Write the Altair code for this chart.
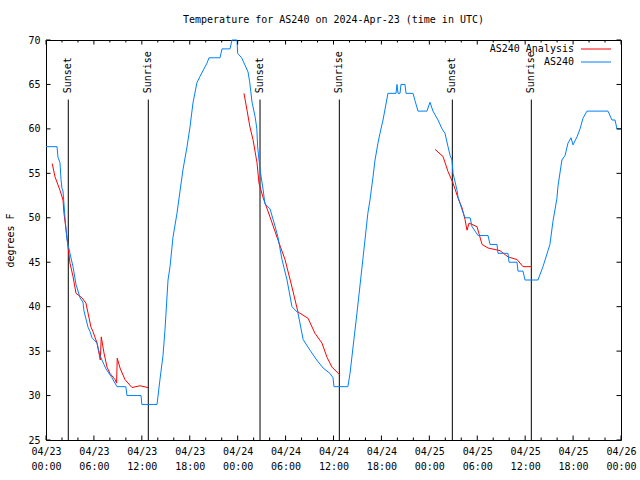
import altair as alt
import pandas as pd

# ---- data (hours since 2024-04-23 00:00 UTC, degrees F) ----
blue_hours = [0.0, 1.38, 1.5, 1.75, 1.88, 2.0, 2.13, 2.38, 2.63, 3.0,
              3.38, 3.76, 4.26, 4.63, 4.76, 5.26, 5.51, 5.76, 6.39, 6.76,
              7.26, 7.51, 8.26, 8.89, 10.0, 10.14, 11.9, 12.0, 13.9, 14.27,
              14.65, 14.9, 15.28, 15.53, 15.9, 16.4, 16.78, 17.15, 17.66, 18.03,
              18.4, 18.9, 19.28, 20.16, 20.41, 21.79, 22.04, 23.04, 23.29, 23.92,
              24.0, 24.5, 24.9, 25.3, 25.5, 25.8, 26.2, 26.4, 26.5, 26.8,
              27.2, 27.4, 28.05, 28.7, 29.05, 29.55, 30.18, 30.8, 31.55, 32.2,
              33.06, 33.9, 34.7, 35.55, 35.94, 36.06, 37.8, 38.07, 38.94, 39.7,
              40.3, 40.57, 40.95, 41.2, 41.57, 41.82, 42.2, 42.82, 43.83, 43.95,
              44.08, 44.33, 44.45, 44.95, 45.08, 45.96, 46.2, 46.58, 47.7, 48.08,
              48.46, 49.09, 49.59, 49.96, 50.34, 50.6, 50.84, 50.97, 51.47, 51.6,
              51.85, 52.1, 52.47, 53.1, 53.35, 54.1, 55.35, 55.6, 56.47, 56.6,
              57.85, 57.98, 58.98, 59.1, 59.73, 59.98, 61.6, 62.23, 62.86, 63.1,
              63.48, 63.98, 64.1, 64.6, 64.99, 65.36, 65.74, 65.99, 66.49, 66.87,
              67.24, 67.74, 70.37, 70.87, 71.25, 71.5, 72.0]
blue_temps = [58, 58, 56.8, 56.2, 54.3, 53.3, 53, 50, 47.5, 46,
              44.5, 42.5, 41, 40.5, 39.5, 37.7, 37.2, 36.5, 35.9, 34.5,
              33.5, 33, 32, 31, 31, 30, 30, 29, 29, 31.8,
              34.5, 37.4, 43, 44.5, 47.8, 50.5, 53, 55.4, 58, 60.2,
              62.9, 65.2, 65.9, 67.4, 68, 68, 69, 69, 70, 70,
              68.5, 68, 67.2, 66.4, 65.3, 63, 61.3, 60, 58, 55.4,
              53.1, 51.6, 51, 49, 47.8, 45.3, 43, 40, 39.3, 36.3,
              35.1, 34, 33.1, 32.5, 32, 31, 31, 32.5, 39.3, 45.5,
              50.5, 52, 54.6, 56.5, 58.4, 59.5, 61, 64, 64, 65,
              64, 64, 65, 65, 64, 64, 63.2, 62, 62, 63,
              62, 61, 60, 59.5, 58, 57, 56.5, 55, 53.1, 52.3,
              51.6, 50.9, 50, 50, 49, 48, 48, 47, 47, 46,
              46, 45, 45, 44, 44, 43, 43, 44.5, 46.3, 47,
              49.6, 52.2, 53.5, 56.5, 57, 58.4, 59, 58.2, 59.1, 60,
              61.2, 62, 62, 61, 61, 60, 60]

red1_hours = [0.78, 1.13, 1.5, 1.75, 2.13, 2.25, 2.63, 3.0, 3.38, 3.76,
              4.5, 5.0, 5.26, 5.63, 5.88, 6.39, 6.8, 6.92, 7.26, 7.64,
              8.01, 8.64, 8.84, 8.92, 9.27, 9.89, 10.77, 11.77, 12.77]
red1_temps = [56.1, 54.6, 53.7, 53.1, 52, 50.5, 47.8, 44.9, 43.4, 41.5,
              41, 40.4, 39.3, 37.7, 37.2, 35.9, 34, 36.6, 34.8, 33.2,
              32.5, 31.8, 31.4, 34.2, 33.1, 31.8, 30.9, 31.1, 30.9]
red2_hours = [24.79, 25.17, 25.54, 25.92, 26.42, 26.67, 27.17, 28.05, 28.93,
              29.93, 30.8, 31.55, 32.81, 33.68, 34.56, 35.19, 35.81, 36.81]
red2_temps = [64, 62.1, 60.2, 58.8, 56.2, 53.9, 52.3, 50.1, 47.8,
              45.3, 42.2, 39.4, 38.7, 37, 35.9, 34.3, 33.2, 32.3]
red3_hours = [48.71, 49.71, 50.34, 50.97, 51.6, 52.1, 52.47, 52.72, 52.97,
              53.97, 54.6, 55.35, 56.85, 57.85, 58.98, 59.73, 60.86]
red3_temps = [57.7, 56.9, 55.2, 53.9, 52.2, 51.1, 49.8, 48.6, 49.4,
              49, 47, 46.6, 46.3, 45.6, 45.3, 44.5, 44.5]

event_hours = [2.79, 12.81, 26.8, 36.73, 50.88, 60.77]
event_labels = ["Sunset", "Sunrise", "Sunset", "Sunrise", "Sunset", "Sunrise"]

y_ticks = [25, 30, 35, 40, 45, 50, 55, 60, 65, 70]
x_major = [0, 6, 12, 18, 24, 30, 36, 42, 48, 54, 60, 66, 72]
x_minor = [h for h in range(0, 73, 2) if h % 6 != 0]

series_names = ["AS240 Analysis", "AS240"]
series_colors = ["#ff0000", "#0080ff"]

# ---- layout constants ----
W, H = 575, 400
X0, X1, Y0, Y1 = 0, 72, 25, 70
FONT = "DejaVu Sans Mono"
FS = 10
px_y = (Y1 - Y0) / H      # degrees per pixel
px_x = (X1 - X0) / W      # hours per pixel

xscale = alt.Scale(domain=[X0, X1], nice=False, zero=False)
yscale = alt.Scale(domain=[Y0, Y1], nice=False, zero=False)

xaxis = alt.Axis(values=x_major, ticks=False, domain=False, grid=False, title=None,
                 labelFont=FONT, labelFontSize=FS, labelColor="black",
                 labelBaseline="top", labelPadding=6, labelLineHeight=15,
                 labelFlush=False, labelOverlap=False,
                 labelExpr="['04/' + (23 + floor(datum.value / 24)), "
                           "((datum.value % 24) < 10 ? '0' : '') + (datum.value % 24) + ':00']")
yaxis = alt.Axis(values=y_ticks, ticks=False, domain=False, grid=False,
                 title="degrees F", titleFont=FONT, titleFontSize=FS,
                 titleFontWeight="normal", titleColor="black", titlePadding=12,
                 labelFont=FONT, labelFontSize=FS, labelColor="black", labelPadding=6)


def X(field="h"):
    return alt.X(f"{field}:Q", scale=xscale, axis=xaxis)


def Y(field="t"):
    return alt.Y(f"{field}:Q", scale=yscale, axis=yaxis)


# ---- tables ----
red_df = pd.concat([
    pd.DataFrame({"h": red1_hours, "t": red1_temps, "seg": 1}),
    pd.DataFrame({"h": red2_hours, "t": red2_temps, "seg": 2}),
    pd.DataFrame({"h": red3_hours, "t": red3_temps, "seg": 3}),
])
red_df["series"] = series_names[0]
blue_df = pd.DataFrame({"h": blue_hours, "t": blue_temps, "seg": 0, "series": series_names[1]})
ev_df = pd.DataFrame({"h": event_hours, "label": event_labels})
ev_df["top"] = 63.3
ev_df["bot"] = Y0
ev_df["ty"] = 64.0

color = alt.Color("series:N", scale=alt.Scale(domain=series_names, range=series_colors), legend=None)

red = alt.Chart(red_df).mark_line(strokeWidth=1).encode(
    x=X(), y=Y(), color=color, detail="seg:N")
blue = alt.Chart(blue_df).mark_line(strokeWidth=1).encode(
    x=X(), y=Y(), color=color)

ev_rules = alt.Chart(ev_df).mark_rule(color="black", strokeWidth=1).encode(
    x=X(), y=Y("top"), y2="bot:Q")
ev_text = alt.Chart(ev_df).mark_text(angle=270, align="left", baseline="middle",
                                     font=FONT, fontSize=FS, color="black").encode(
    x=X(), y=Y("ty"), text="label:N")

# inward tick marks (gnuplot style)
maj_y, min_y, maj_x = 4.5 * px_y, 2.5 * px_y, 4.5 * px_x
xt = pd.DataFrame({"h": x_major + x_minor,
                   "len": [maj_y] * len(x_major) + [min_y] * len(x_minor)})
xt["y0"] = Y0
xt["y1"] = Y1
xt["b"] = Y0 + xt["len"]
xt["t"] = Y1 - xt["len"]
yt = pd.DataFrame({"v": y_ticks})
yt["x0"] = X0
yt["x1"] = X1
yt["l"] = X0 + maj_x
yt["r"] = X1 - maj_x

tick_bottom = alt.Chart(xt).mark_rule(color="black", strokeWidth=1).encode(
    x=X(), y=Y("y0"), y2="b:Q")
tick_top = alt.Chart(xt).mark_rule(color="black", strokeWidth=1).encode(
    x=X(), y=Y("y1"), y2="t:Q")
tick_left = alt.Chart(yt).mark_rule(color="black", strokeWidth=1).encode(
    x=X("x0"), x2="l:Q", y=Y("v"))
tick_right = alt.Chart(yt).mark_rule(color="black", strokeWidth=1).encode(
    x=X("x1"), x2="r:Q", y=Y("v"))

# legend (gnuplot style: text then sample line, top-right inside)
leg_df = pd.DataFrame({"series": series_names, "row": [0, 1]})
leg_layers = []
for i, name in enumerate(series_names):
    d = leg_df[leg_df["row"] == i]
    ypix = 9 + 13 * i
    leg_layers.append(alt.Chart(d).mark_text(align="right", baseline="middle", font=FONT,
                                             fontSize=FS, color="black").encode(
        x=alt.value(528), y=alt.value(ypix), text="series:N"))
    leg_layers.append(alt.Chart(d).mark_rule(strokeWidth=1).encode(
        x=alt.value(535), x2=alt.value(565), y=alt.value(ypix), color=color))

chart = alt.layer(
    ev_rules, ev_text, red, blue, tick_bottom, tick_top, tick_left, tick_right, *leg_layers
).properties(
    width=W, height=H,
    autosize=alt.AutoSizeParams(type="none"),
    padding={"left": 46, "top": 40, "right": 19, "bottom": 40},
    background="white",
    title=alt.TitleParams(text="Temperature for AS240 on 2024-Apr-23 (time in UTC)",
                          font=FONT, fontSize=FS, fontWeight="normal", color="black",
                          anchor="middle", offset=10),
).configure_view(stroke="black", strokeWidth=1)

chart.save("out.html", embed_options={"renderer": "svg", "actions": False})
